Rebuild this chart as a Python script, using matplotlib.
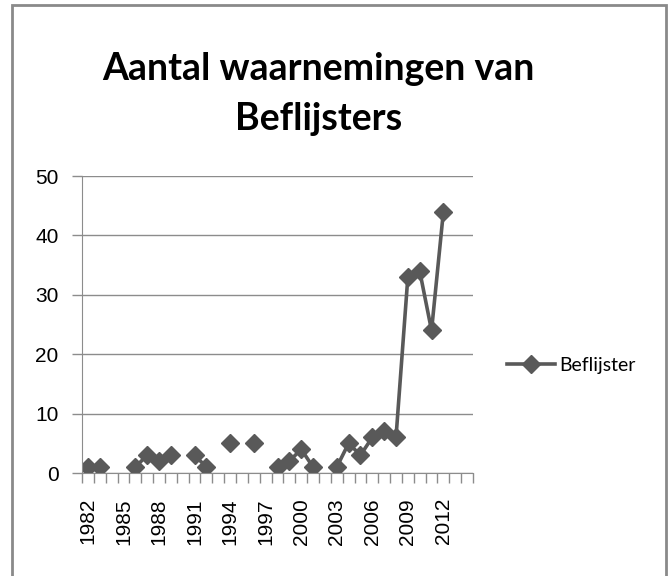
import numpy as np
import matplotlib.pyplot as plt
from matplotlib.patches import Rectangle

# data (NaN = geen waarneming in dat jaar)
years = list(range(1982, 2015))
counts = [1, 1, np.nan, np.nan, 1, 3, 2, 3, np.nan, 3, 1, np.nan, 5, np.nan, 5,
          np.nan, 1, 2, 4, 1, np.nan, 1, 5, 3, 6, 7, 6, 33, 34, 24, 44,
          np.nan, np.nan]
y_ticks = [0, 10, 20, 30, 40, 50]
series_name = "Beflijster"
title = "Aantal waarnemingen van\nBeflijsters"

line_col = "#595959"
grid_col = "#8c8c8c"

fig = plt.figure(figsize=(6.7, 5.76), dpi=100)
ax = fig.add_axes([0.1224, 0.1788, 0.5836, 0.5156])

x = np.arange(len(years))
ax.plot(x, counts, color=line_col, lw=2.6, marker="D", ms=9.5,
        label=series_name)

ax.set_xlim(-0.5, len(years) - 0.5)
ax.set_ylim(0, 50)
ax.set_yticks(y_ticks)
ax.yaxis.grid(True, color=grid_col, lw=1)
ax.set_axisbelow(True)

ax.set_xticks(x[::3])
ax.set_xticklabels([str(y) for y in years[::3]], rotation=90,
                   family="Liberation Sans", fontsize=15)
ax.set_xticks(np.arange(-0.5, len(years)), minor=True)
ax.tick_params(axis="x", which="major", length=0, pad=18)
ax.tick_params(axis="x", which="minor", length=7, color=grid_col, width=1)
ax.tick_params(axis="y", length=7, color=grid_col, width=1, pad=10)
for lab in ax.get_yticklabels():
    lab.set_family("Liberation Sans")
    lab.set_fontsize(15)

for s in ["top", "right"]:
    ax.spines[s].set_visible(False)
ax.spines["left"].set_color(grid_col)
ax.spines["bottom"].set_color(grid_col)

fig.text(0.475, 0.837, title, ha="center", va="center", family="Lato",
         fontweight="bold", fontsize=27, linespacing=1.55)

fig.legend(loc="center left", bbox_to_anchor=(0.757, 0.366), frameon=False,
           prop={"family": "Lato", "size": 14}, handlelength=2.45,
           handletextpad=0.25, borderaxespad=0, borderpad=0)

# rand om de grafiek
fig.patches.append(Rectangle((12 / 670, -0.05), 654 / 670, 1 - 5 / 576 + 0.05,
                             transform=fig.transFigure, fill=False,
                             edgecolor="#8a8a8a", lw=2))

fig.savefig("out.png", dpi=100)
